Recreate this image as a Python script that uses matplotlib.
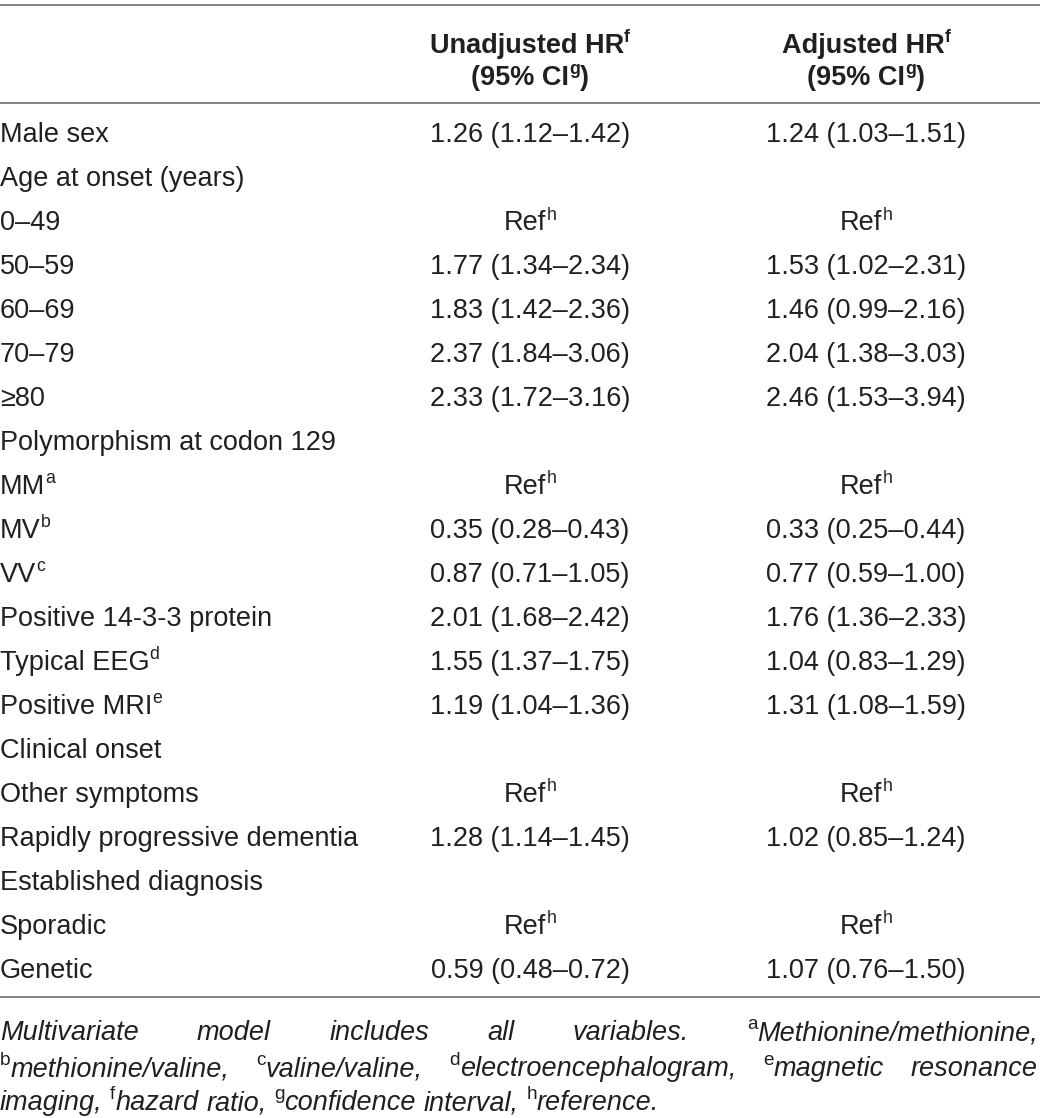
import matplotlib
matplotlib.use('Agg')
import matplotlib.pyplot as plt

# table content
row_labels = ["Male sex", "Age at onset (years)", "0\u201349", "50\u201359", "60\u201369",
              "70\u201379", "\u226580", "Polymorphism at codon 129", "MM", "MV", "VV",
              "Positive 14-3-3 protein", "Typical EEG", "Positive MRI", "Clinical onset",
              "Other symptoms", "Rapidly progressive dementia", "Established diagnosis",
              "Sporadic", "Genetic"]
row_sups = ["", "", "", "", "", "", "", "", "a", "b", "c", "", "d", "e", "", "", "", "", "", ""]
unadjusted = ["1.26 (1.12\u20131.42)", "", "Ref", "1.77 (1.34\u20132.34)", "1.83 (1.42\u20132.36)",
              "2.37 (1.84\u20133.06)", "2.33 (1.72\u20133.16)", "", "Ref", "0.35 (0.28\u20130.43)",
              "0.87 (0.71\u20131.05)", "2.01 (1.68\u20132.42)", "1.55 (1.37\u20131.75)",
              "1.19 (1.04\u20131.36)", "", "Ref", "1.28 (1.14\u20131.45)", "", "Ref",
              "0.59 (0.48\u20130.72)"]
adjusted = ["1.24 (1.03\u20131.51)", "", "Ref", "1.53 (1.02\u20132.31)", "1.46 (0.99\u20132.16)",
            "2.04 (1.38\u20133.03)", "2.46 (1.53\u20133.94)", "", "Ref", "0.33 (0.25\u20130.44)",
            "0.77 (0.59\u20131.00)", "1.76 (1.36\u20132.33)", "1.04 (0.83\u20131.29)",
            "1.31 (1.08\u20131.59)", "", "Ref", "1.02 (0.85\u20131.24)", "", "Ref",
            "1.07 (0.76\u20131.50)"]
header_cols = [[[("Unadjusted HR", ""), ("", "f")], [("(95% CI", ""), ("", "g"), (")", "")]],
               [[("Adjusted HR", ""), ("", "f")], [("(95% CI", ""), ("", "g"), (")", "")]]]
footnote_lines = [
    [("Multivariate", ""), ("model", ""), ("includes", ""), ("all", ""), ("variables.", ""),
     ("Methionine/methionine,", "a")],
    [("methionine/valine,", "b"), ("valine/valine,", "c"), ("electroencephalogram,", "d"),
     ("magnetic", "e"), ("resonance", "")],
    [("imaging,", ""), ("hazard", "f"), ("ratio,", ""), ("confidence", "g"), ("interval,", ""),
     ("reference.", "h")],
]

W, H = 1040, 1118
FS = 19.5
FONT = "Liberation Sans"
TXT = "#231f20"
LINE = "#7a7a7a"

fig = plt.figure(figsize=(W / 100, H / 100), dpi=100)
ax = fig.add_axes([0, 0, 1, 1])
ax.set_xlim(0, W)
ax.set_ylim(H, 0)
ax.axis('off')
renderer = fig.canvas.get_renderer()


def width_of(t):
    return t.get_window_extent(renderer).width


def draw_runs(x, y, runs, ha="left", fs=FS, **kw):
    # runs: list of (text, sup); y is baseline
    pieces = []
    for text, sup in runs:
        if text:
            t = ax.text(0, y, text, fontsize=fs, family=FONT, color=TXT, va="baseline", **kw)
            pieces.append(t)
        if sup:
            t = ax.text(0, y - fs * 0.55, sup, fontsize=fs * 0.65, family=FONT, color=TXT,
                        va="baseline", **kw)
            pieces.append(t)
    widths = [width_of(p) for p in pieces]
    total = sum(widths)
    if ha == "center":
        x0 = x - total / 2
    elif ha == "right":
        x0 = x - total
    else:
        x0 = x
    for p, w in zip(pieces, widths):
        p.set_x(x0)
        x0 += w
    return total


# rules
ax.plot([0, W], [5, 5], color=LINE, lw=1.3)
ax.plot([0, W], [103, 103], color=LINE, lw=1.3)
ax.plot([0, W], [997, 997], color=LINE, lw=1.3)

col_x = [530, 866]
for cx, lines in zip(col_x, header_cols):
    draw_runs(cx, 53, lines[0], ha="center", fontweight="bold")
    draw_runs(cx, 85, lines[1], ha="center", fontweight="bold")

y0, dy = 133, 43.95
for i, lab in enumerate(row_labels):
    yb = y0 + i * dy + 9.5
    draw_runs(0, yb, [(lab, row_sups[i])])
    for cx, val in zip(col_x, [unadjusted[i], adjusted[i]]):
        if val == "Ref":
            draw_runs(cx, yb, [("Ref", "h")], ha="center")
        elif val:
            draw_runs(cx, yb, [(val, "")], ha="center")

# justified italic footnote, superscript letter before its word
foot_base = [1040, 1076, 1110]
for k, words in enumerate(footnote_lines):
    yb = foot_base[k]
    groups = []
    for word, sup in words:
        pieces = []
        if sup:
            pieces.append(ax.text(0, yb - FS * 0.55, sup, fontsize=FS * 0.7, family=FONT,
                                  color=TXT, va="baseline"))
        pieces.append(ax.text(0, yb, word, fontsize=FS, family=FONT, color=TXT,
                              va="baseline", style="italic"))
        groups.append(pieces)
    gw = [sum(width_of(p) for p in g) for g in groups]
    if k < len(footnote_lines) - 1:
        gap = (W - 2 - sum(gw)) / (len(groups) - 1)
    else:
        gap = FS * 0.28 * 1.39
    x = 0
    for g, w in zip(groups, gw):
        for p in g:
            p.set_x(x)
            x += width_of(p)
        x += gap

fig.savefig("out.png", dpi=100)
